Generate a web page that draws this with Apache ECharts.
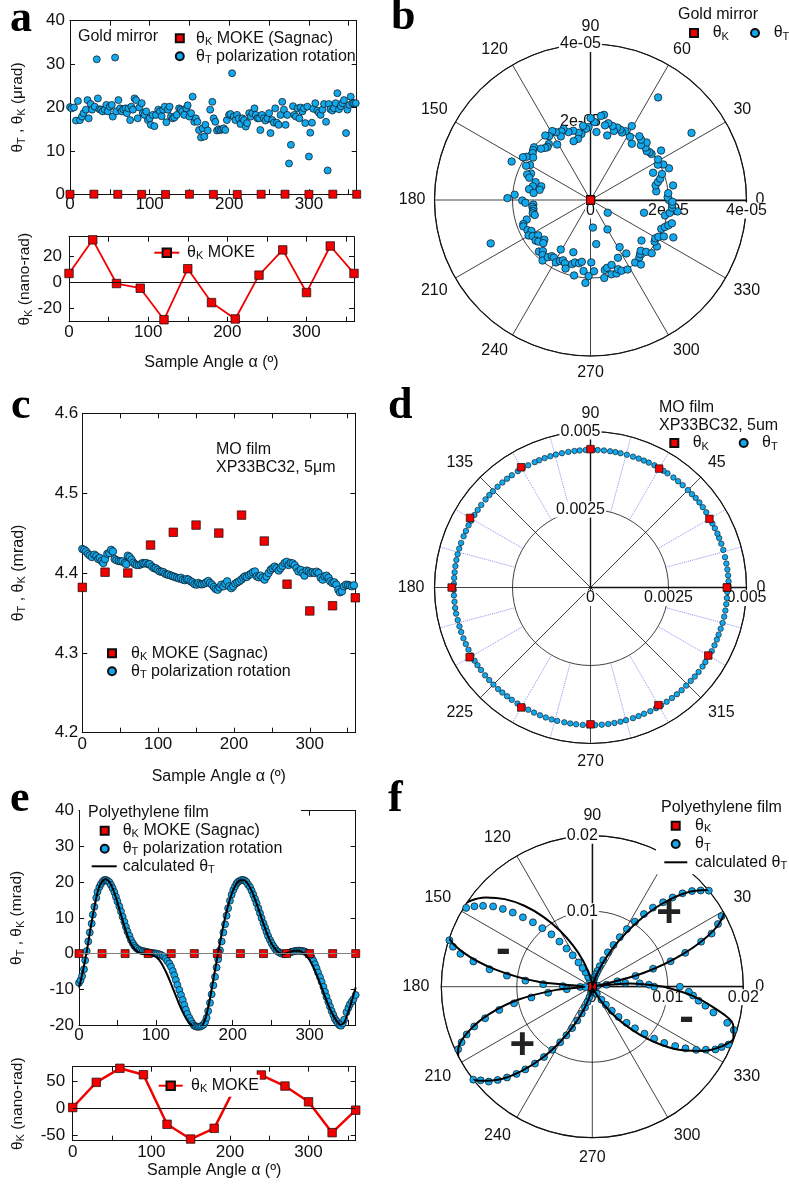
<!DOCTYPE html>
<html>
<head>
<meta charset="utf-8">
<title>Kerr rotation and polarization rotation versus sample angle</title>
<script src="https://cdn.jsdelivr.net/npm/echarts@6.0.0/dist/echarts.min.js"></script>
<style>
html,body{margin:0;padding:0;background:#fff;}
#chart{width:789px;height:1184px;}
</style>
</head>
<body>
<div id="chart"></div>
<script>
// ---------- data ----------
// Sagnac MOKE sample angles (degrees)
const kAngle = [0,30,60,90,120,150,180,210,240,270,300,330,360];

// Gold mirror: Kerr rotation (nano-rad) and polarization rotation (micro-rad)
const aKnrad = [6.9,32.6,-0.8,-4.4,-28.5,10.5,-15.4,-27.9,5.6,24.9,-7.7,27.9,6.9];
const aTAngle = [0,2,5,7.5,10,12.6,15,17,20,22,23.5,26,27.7,31,33.6,35,37,39,41,43.6,45.7,47.4,50,52.5,53.7,56.6,58,60.8,63,65,67,69.7,71.3,73.4,75.5,77,79,81,83,85,87,90,91.5,93.6,95.7,97.8,100,101.5,104,106,108,110.8,113,115,117,119,121,123,125,126.7,129,131,134,137,139,141,143.5,146,147.7,150,152,154,156,158,160,162,164.5,166.6,168.7,170,173,176,178.7,180.4,182.5,184.6,186.7,188.8,191,193,195,197,199.7,201.4,203.5,205.6,207.7,209.8,212,214,216.5,218.6,220.7,222.4,225,227,229,231.6,233.3,235.4,237.5,239,241,243.4,245.5,248,250,251.8,254,256,257.7,259.8,262,264.4,266.5,268.6,270.7,272.8,275,277.4,280,281.6,283.7,285.8,288,289.5,291.7,293.7,295.4,298,300,301.7,303.8,305.5,308,310.5,312.6,314.7,317,319,321.5,323.5,325,327,329.4,331.5,333.6,335.7,337.8,340,342,344,346.6,348.3,350.8,352.5,354.6,356.7,358.8];
const aTurad = [20.1,19.8,20,17,21.5,17.1,17.9,18.7,19.5,21.7,17.5,20.8,19.5,20.2,31.1,22.1,19.6,19.5,19.1,19.5,20.6,19.1,20.2,20.6,17.9,31.5,19.1,21.7,19.8,19.1,19.6,19.8,18.7,19.8,17.1,20.2,19.5,22.1,21.7,17.5,20,21,18.7,18.3,19.1,17.1,17.5,16,18.3,15.7,18.3,19.5,19.1,18,19.5,20.2,16.6,19.5,20.2,17.9,17.5,17.7,18.3,19.8,19.5,19.1,18.3,19.8,20.5,17.9,18.7,22.5,16.7,17.5,16.7,14.8,13.1,15.2,13.3,16,14.7,19.5,21.3,17.5,16.7,14.7,15,14.8,15,15.2,14.8,17.1,18.3,18.5,27.9,17.9,17.1,18.3,17.5,16.2,17.5,17.1,15.6,16.4,18.7,17.9,18.7,19.8,18.3,17.5,17.5,14.8,18.3,17.5,17,17.5,18.7,14.1,17.1,16.5,19.8,16.5,16,18.3,21.3,19.5,16,18.3,7.1,11.4,20.3,18.3,17.9,19.8,17.5,20,19.1,19.8,16.4,20.2,8.7,14.2,16.5,19.7,21,19.3,18.8,18.3,19.5,20.8,16.7,5.5,20.8,19.6,19.3,19.8,21,23.3,19.6,20.3,21,21.7,14.1,19.5,20.6,22.5,21,21,21];

// MO film XP33BC32: Kerr rotation and polarization rotation (mrad)
const cKmrad = [4.382,4.401,4.400,4.435,4.451,4.460,4.450,4.4725,4.440,4.386,4.3525,4.359,4.369];
const cTAngle = [0,2.6,5,7.5,10,12.7,15.8,18.5,21,23,25.5,27.7,30,33,35.6,38,40.4,42.6,45,48,50.5,53,56,58,60,62.4,65,67.2,69.5,72,74.7,77.4,79.6,81.8,84.4,87,89,92,94.5,96.7,99.3,102,104.6,107,109.5,112,114,117,119.6,122,125,127.5,130,132.7,135.4,137.6,140,142.9,145.5,148,150.8,153,155.6,158,161,163.5,166,168.4,171,173.6,176,178.5,181,183.3,186,188.6,191,193.8,196.5,199,201.8,204.4,207,209.7,212.3,214.5,217,219.8,222.4,225,227.7,230,232.5,235,237.8,240.4,243,245.7,248.4,251,253.6,256,259,261.5,264,266.8,269.5,272,274.7,277.4,280,282.6,285,288,290.5,293,295.8,298.5,301,303.7,306.4,309,311.6,314.3,317,319.5,322,324.8,327,329.7,332.3,335,337.6,339.8,342.4,345,347.7,350.3,353,355.6,358.2];
const cTmrad = [4.430,4.429,4.427,4.424,4.422,4.420,4.423,4.421,4.4175,4.419,4.415,4.4125,4.4175,4.424,4.425,4.429,4.427,4.4175,4.416,4.415,4.4146,4.4146,4.4125,4.411,4.4217,4.42,4.4167,4.413,4.411,4.41,4.41,4.411,4.4125,4.412,4.4125,4.411,4.411,4.408,4.406,4.406,4.404,4.402,4.4017,4.401,4.399,4.398,4.398,4.3967,4.3958,4.395,4.394,4.393,4.394,4.3917,4.391,4.3925,4.3917,4.3896,4.3883,4.386,4.3854,4.3875,4.386,4.3858,4.3867,4.3883,4.390,4.3875,4.3854,4.3825,4.380,4.379,4.382,4.3854,4.3833,4.3867,4.3896,4.3833,4.381,4.3833,4.3867,4.3883,4.3896,4.3917,4.394,4.3958,4.395,4.3975,4.399,4.401,4.402,4.3958,4.3946,4.3967,4.394,4.3917,4.3958,4.400,4.404,4.406,4.408,4.406,4.403,4.406,4.409,4.4125,4.414,4.410,4.4125,4.412,4.4096,4.406,4.402,4.404,4.400,4.3967,4.403,4.402,4.400,4.401,4.400,4.4017,4.400,4.394,4.3917,4.3958,4.3967,4.394,4.3896,4.3875,4.3883,4.3854,4.379,4.3758,4.377,4.3833,4.3854,4.385,4.3842,4.3833,4.3846];

// Polyethylene film: Kerr rotation (nano-rad), polarization rotation and model (mrad)
const eKnrad = [1.9,48.8,75,63.1,-29.4,-56.9,-36.9,50,62.5,41.9,12.5,-45,-3.1];
const eTAngle = [0,2,4,6.5,8,10,12,14,16.5,18,20,22.5,24,26.5,28.6,31,33,35,37,39.5,41.6,43.8,46,48,50,52.5,54.6,56.8,59,61,63,65.5,67.6,70,72,74,76,78.5,80.7,83,85,87,89,91.5,93.7,96,98,100,102,104.5,106.7,109,111,113,115,117.5,119.7,122,124,126,128,130.5,132.7,135,137,139,141,143.5,145.7,148,150,152,154,156,158,160,162,164,166,168,170.4,172.6,174.8,177,179,181,183.4,185.6,187.8,190,192,194,196.4,198.6,200.8,203,205,207,209.5,211.6,213.8,216,218,220,222.5,224.6,226.8,229,231,233.3,235.5,237.6,240,242,244,246,248.5,250.6,252.8,255,257,259.3,261.5,263.7,265.8,268,270,272.3,274.5,276.7,278.8,281,283,285,287,289,291,293,295,297,299,301,302.7,305,307,309,311,313.5,315.7,318,320,322,324.4,326.5,328.7,331,333,335,337,339,341,343,345,348,350.5,352.5,355,357,360];
const eTmrad = [-8.2,-7.5,-6.3,-4.4,-1.9,0.7,3.4,5.9,8.4,10.9,13.1,15.6,17.3,18.6,19.5,20.2,20.6,20.6,20.4,20,19.2,18.3,17.2,15.9,14.6,13.2,11.8,10.3,8.9,7.5,6.2,5,3.8,2.9,2.2,1.7,1.3,1.0,0.8,0.7,0.6,0.5,0.4,0.3,0.2,0.1,0.1,0,-0.1,-0.2,-0.4,-0.7,-0.9,-1.4,-2.1,-2.8,-3.7,-4.9,-6.1,-7.4,-8.8,-10.2,-11.6,-13,-14.4,-15.7,-16.9,-18,-18.9,-19.7,-20.2,-20.4,-20.5,-20.5,-20.4,-20.2,-19.9,-19.2,-18,-16.1,-13.8,-11.4,-8.9,-6.5,-3.9,-1.6,0.9,3.4,5.9,8.2,10.6,12.7,14.8,16.5,17.8,18.8,19.6,20.1,20.4,20.6,20.6,20.4,20,19.3,18.6,17.6,16.5,15.3,14.1,12.7,11.3,9.9,8.5,7.3,6.1,4.9,3.8,2.9,2.1,1.4,0.8,0.5,0.2,0,-0.1,-0.1,0,0.1,0.3,0.5,0.6,0.7,0.75,0.8,0.8,0.75,0.7,0.6,0.4,0.1,-0.3,-0.7,-1.1,-2.1,-3,-4.1,-5.3,-6.6,-7.9,-9.3,-10.7,-12.1,-13.5,-14.8,-16.1,-17.2,-18.3,-18.9,-19.6,-20.1,-20.2,-19.6,-18.5,-16.4,-15.2,-14.2,-13.4,-12.8,-11.6];
const eCalcAngle = [0,5,10,15,20,25,30,35,40,45,50,55,60,65,70,75,80,85,90,95,100,105,110,115,120,125,130,135,140,145,150,155,160,165,170,175,180,185,190,195,200,205,210,215,220,225,230,235,240,245,250,255,260,265,270,275,280,285,290,295,300,305,310,315,320,325,330,335,340,345,350,355,360];
const eCalcMrad = [-9.5,-5,0.5,7,13,17.8,20.2,20.8,19.9,17.6,14.3,10.6,7.0,4.0,1.9,0.7,0.1,-0.1,-0.2,-0.4,-0.9,-2.0,-3.8,-6.0,-8.6,-11.3,-14,-16.4,-18.4,-19.8,-20.6,-20.8,-20.3,-17.8,-13,-7,-1,4.8,10,14.2,17.5,19.6,20.5,20.5,19.4,17.4,14.6,11.5,8.3,5.4,3.0,1.3,0.3,-0.1,0.1,0.5,0.8,0.8,0.5,-0.3,-1.8,-3.8,-6.3,-9.1,-12,-14.7,-17,-18.8,-19.9,-19.3,-16.5,-13.2,-9.5];

// sign of the rotation in each lobe of the polar plot (radius in rad, angle in degrees)
const fSignText = ['+','-','+','-'];
const fSignR = [0.0139,0.0127,0.0122,0.0132];
const fSignAngle = [43,158,220.6,341];

// axis ticks
const xTickVals = [0,50,100,150,200,250,300,350];
const xLabelVals = [0,100,200,300];

// ---------- styling helpers ----------
const FONT = "'Liberation Sans', Arial, Helvetica, sans-serif";
const SERIF = "'Liberation Serif', 'Times New Roman', serif";
const INK = '#111111';
const RED = '#f20000';
const BLUE = '#12a8ee';
const EDGE = '#0d0d0d';

function sub(s) { return s.replace(/θ([KT])/g, 'θ{s|$1}'); }
function richSub(size) {
  const f = Math.round(size * 0.68);
  return { s: { fontFamily: FONT, fontSize: f, lineHeight: f, verticalAlign: 'bottom', color: INK } };
}
function zip(a, b) { return a.map((v, i) => [v, b[i]]); }
const redDot = { color: RED, borderColor: EDGE, borderWidth: 0.7, opacity: 1 };
const blueDot = { color: BLUE, borderColor: EDGE, borderWidth: 0.7, opacity: 1 };

function tickStyle(vals) {
  return { show: true, inside: true, length: 5, lineStyle: { color: INK, width: 1 }, customValues: vals };
}
const frameLine = { show: true, onZero: false, lineStyle: { color: INK, width: 1 } };

// four framing axes (bottom, top, left, right) for one cartesian panel
function cartesian(gi, c) {
  const xb = {
    gridIndex: gi, type: 'value', position: 'bottom', min: 0, max: 360,
    axisLine: frameLine, axisTick: tickStyle(xTickVals), splitLine: { show: false },
    axisLabel: { customValues: xLabelVals, margin: c.xlm, fontFamily: FONT, fontSize: 17, color: INK },
    name: c.xName || '', nameLocation: 'middle', nameGap: c.xng || 30, nameMoveOverlap: false,
    nameTextStyle: { fontFamily: FONT, fontSize: 16, color: INK }
  };
  const xt = {
    gridIndex: gi, type: 'value', position: 'top', min: 0, max: 360,
    axisLine: frameLine, axisTick: tickStyle(c.xTop || xTickVals), axisLabel: { show: false }, splitLine: { show: false }
  };
  const yLabel = { customValues: c.yTicks, margin: c.ylm, fontFamily: FONT, fontSize: 17, color: INK };
  if (c.yfmt) yLabel.formatter = c.yfmt;
  const yl = {
    gridIndex: gi, type: 'value', position: 'left', min: c.ymin, max: c.ymax,
    axisLine: frameLine, axisTick: tickStyle(c.yTicks), splitLine: { show: false }, axisLabel: yLabel,
    name: sub(c.yName), nameLocation: 'middle', nameGap: c.yng, nameRotate: 90, nameMoveOverlap: false,
    nameTextStyle: { fontFamily: FONT, fontSize: c.yns, lineHeight: 18, color: INK, rich: richSub(c.yns) }
  };
  const yr = {
    gridIndex: gi, type: 'value', position: 'right', min: c.ymin, max: c.ymax,
    axisLine: frameLine, axisTick: tickStyle(c.yRight), axisLabel: { show: false }, splitLine: { show: false }
  };
  return { x: [xb, xt], y: [yl, yr] };
}

const panels = [
  cartesian(0, { ymin: 0, ymax: 40, yTicks: [0,10,20,30,40], yRight: [10,20,30], xlm: 2, ylm: 5,
                 yName: 'θT , θK (μrad)', yng: 43, yns: 15.5 }),
  cartesian(1, { ymin: -30, ymax: 35, yTicks: [-20,0,20], yRight: [-20,0,20], xlm: 2, ylm: 7,
                 yName: 'θK (nano-rad)', yng: 35, yns: 15.5, xName: 'Sample Angle α (º)', xng: 33 }),
  cartesian(2, { ymin: 4.2, ymax: 4.6, yTicks: [4.2,4.3,4.4,4.5,4.6], yRight: [4.3,4.4,4.5], xlm: 3.5, ylm: 4,
                 yfmt: v => v.toFixed(1), yName: 'θT , θK (mrad)', yng: 55, yns: 16,
                 xName: 'Sample Angle α (º)', xng: 36 }),
  cartesian(3, { ymin: -20, ymax: 40, yTicks: [-20,-10,0,10,20,30,40], yRight: [-10,0,10,20,30], xTop: [100,200,300],
                 xlm: 1.5, ylm: 5, yName: 'θT , θK (mrad)', yng: 53, yns: 15.5 }),
  cartesian(4, { ymin: -60, ymax: 78, yTicks: [-50,0,50], yRight: [-50,0,50], xlm: 3.5, ylm: 7.5,
                 yName: 'θK (nano-rad)', yng: 46, yns: 15.5, xName: 'Sample Angle α (º)', xng: 22 })
];

function zeroLine(color) {
  return { silent: true, symbol: 'none', label: { show: false }, animation: false,
           lineStyle: { color: color, width: 1, type: 'solid', opacity: 1 }, data: [{ yAxis: 0 }] };
}

// ---------- polar helpers ----------
function sci(v) {
  if (v === 0) return '0';
  const e = Math.floor(Math.log10(Math.abs(v)) + 1e-9);
  const m = Math.round(v / Math.pow(10, e));
  return m + 'e' + (e < 0 ? '-' : '+') + String(Math.abs(e)).padStart(2, '0');
}
const plain = v => String(+v.toPrecision(6));
const polarLabel = { fontFamily: FONT, fontSize: 16, color: INK };

function angleMain(pi, interval, margin) {
  return {
    polarIndex: pi, type: 'value', min: 0, max: 360, interval: interval, startAngle: 0, clockwise: false,
    axisLine: { show: true, lineStyle: { color: INK, width: 1.2 } },
    axisTick: { show: false },
    axisLabel: Object.assign({ show: true, margin: margin, formatter: v => (v >= 360 ? '' : String(v)) }, polarLabel),
    splitLine: { show: true, lineStyle: { color: INK, width: 0.8 } }
  };
}
function angleHidden(pi) {
  return { polarIndex: pi, type: 'value', min: 0, max: 360, startAngle: 90, clockwise: false, show: false };
}
function radiusMain(pi, max, interval, fmt) {
  return {
    polarIndex: pi, type: 'value', min: 0, max: max, interval: interval,
    axisLine: { show: true, lineStyle: { color: INK, width: 1.4 } },
    axisTick: { show: false },
    splitLine: { show: true, lineStyle: { color: INK, width: 0.8 } },
    axisLabel: Object.assign({ formatter: fmt, margin: -10.5, align: 'center', verticalAlign: 'middle',
                               backgroundColor: '#fff', padding: [0, 1] }, polarLabel)
  };
}
function radiusVertical(pi, max, interval, fmt) {
  return {
    polarIndex: pi, type: 'value', min: 0, max: max, interval: interval, z: 1,
    axisLine: { show: true, lineStyle: { color: INK, width: 1.4 } },
    axisTick: { show: false }, splitLine: { show: false },
    axisLabel: Object.assign({ formatter: v => (v === 0 ? '' : fmt(v)), margin: 10, align: 'center',
                               verticalAlign: 'middle', backgroundColor: '#fff', padding: [0, 1] }, polarLabel)
  };
}

function legendText(size, padLeft) {
  return { fontFamily: FONT, fontSize: size, color: INK, lineHeight: 18, padding: [0, 0, 0, padLeft], rich: richSub(size) };
}
function legendBase(extra) {
  return Object.assign({ orient: 'vertical', itemWidth: 8, itemHeight: 8, itemGap: 0, padding: 0,
                         selectedMode: false, formatter: sub }, extra);
}
function titleText(text, left, top, extra) {
  return Object.assign({ text: text, left: left, top: top, padding: 0,
    textStyle: { fontFamily: FONT, fontSize: 16, fontWeight: 'normal', color: INK, lineHeight: 18 } }, extra || {});
}
function letter(text, left, top) {
  return { text: text, left: left, top: top, padding: 0,
    textStyle: { fontFamily: SERIF, fontSize: 44, fontWeight: 'bold', color: '#000', lineHeight: 44 } };
}

const absRad = arr => arr.map(v => Math.abs(v) * 1e-3);

const option = {
  animation: false,
  backgroundColor: '#ffffff',
  textStyle: { fontFamily: FONT },
  title: [
    letter('a', 10, -2), letter('b', 391, -4), letter('c', 11, 385), letter('d', 388, 385),
    letter('e', 10, 778), letter('f', 388, 778),
    titleText('Gold mirror', 78, 28),
    titleText('Gold mirror', 678, 6),
    titleText('MO film\nXP33BC32, 5μm', 216, 441),
    titleText('MO film\nXP33BC32, 5um', 659, 399),
    titleText('Polyethylene film', 80, 802.5, { padding: [1, 92, 1, 8], backgroundColor: '#fff' }),
    titleText('Polyethylene film', 656, 798, { padding: [1, 10, 1, 5], backgroundColor: '#fff' })
  ],
  legend: [
    legendBase({ data: ['θK MOKE (Sagnac)', 'θT polarization rotation'], left: 174.8, top: 29.3, textStyle: legendText(16, 7.2) }),
    legendBase({ data: ['θK MOKE'], left: 153.3, top: 243.7, itemWidth: 25, itemHeight: 10.5, textStyle: legendText(16, 2.7) }),
    legendBase({ data: ['θK'], left: 689, top: 24, textStyle: legendText(16, 9.7) }),
    legendBase({ data: ['θT'], left: 750, top: 24, textStyle: legendText(16, 9.7) }),
    legendBase({ data: ['θK MOKE (Sagnac)', 'θT polarization rotation'], left: 107, top: 644.3, textStyle: legendText(16, 10) }),
    legendBase({ data: ['θK'], left: 669.3, top: 434, textStyle: legendText(16, 9.4) }),
    legendBase({ data: ['θT'], left: 738.7, top: 434, textStyle: legendText(16, 9.4) }),
    legendBase({ data: ['θK MOKE (Sagnac)', 'θT polarization rotation'], left: 99.7, top: 821.7, textStyle: legendText(16, 9) }),
    legendBase({ data: ['calculated θT'], left: 90.7, top: 857.3, itemWidth: 25, itemHeight: 10,
                 itemStyle: { color: 'rgba(0,0,0,0)', borderWidth: 0 }, textStyle: legendText(16, 1) }),
    legendBase({ data: ['θK MOKE'], left: 155.7, top: 1074.7, itemWidth: 24, itemHeight: 10.5, padding: [2, 1, 2, 2],
                 backgroundColor: '#fff', textStyle: legendText(16, 3.3) }),
    legendBase({ data: ['θK', 'θT'], left: 670.7, top: 816.7, itemGap: 0.3, padding: [0, 30, 0, 0],
                 backgroundColor: '#fff', textStyle: legendText(16, 10.3) }),
    legendBase({ data: ['calculated θT'], left: 656, top: 848.3, itemWidth: 23, itemHeight: 10, padding: [5, 10, 3, 7.3],
                 backgroundColor: '#fff', itemStyle: { color: 'rgba(0,0,0,0)', borderWidth: 0 }, textStyle: legendText(16, 2.7) })
  ],
  grid: [
    { left: 70, top: 20.7, width: 286.7, height: 173.6 },
    { left: 69, top: 236.7, width: 285, height: 85 },
    { left: 82.3, top: 413.3, width: 273, height: 319.4 },
    { left: 79, top: 810.7, width: 276.7, height: 214.3 },
    { left: 72.7, top: 1066.7, width: 283, height: 74 }
  ].map(g => Object.assign({ outerBoundsMode: 'none', containLabel: false, show: false }, g)),
  xAxis: panels.flatMap(p => p.x),
  yAxis: panels.flatMap(p => p.y),
  polar: [
    { center: [590.5, 200], radius: 156 },
    { center: [590.5, 200], radius: 156 },
    { center: [590.5, 587.5], radius: [78, 156] },
    { center: [590.5, 587.5], radius: 156 },
    { center: [590.5, 587.5], radius: 156 },
    { center: [592.3, 986.7], radius: 151 },
    { center: [592.3, 986.7], radius: 151 }
  ],
  angleAxis: [
    angleMain(0, 30, 9),
    angleHidden(1),
    { polarIndex: 2, type: 'value', min: 0, max: 360, interval: 15, startAngle: 0, clockwise: false,
      axisLine: { show: false }, axisTick: { show: false }, axisLabel: { show: false },
      splitLine: { show: true, lineStyle: { color: ['rgba(0,0,0,0)', '#8d8ff2', '#8d8ff2'], type: 'dotted', width: 1 } } },
    angleMain(3, 45, 10),
    angleHidden(4),
    angleMain(5, 30, 12),
    angleHidden(6)
  ],
  radiusAxis: [
    radiusMain(0, 4e-5, 2e-5, sci),
    radiusVertical(1, 4e-5, 2e-5, sci),
    { polarIndex: 2, type: 'value', min: 0, max: 1, show: false },
    radiusMain(3, 0.005, 0.0025, plain),
    radiusVertical(4, 0.005, 0.0025, plain),
    radiusMain(5, 0.02, 0.01, plain),
    radiusVertical(6, 0.02, 0.01, plain)
  ],
  series: [
    // panel a: gold mirror, linear
    { type: 'scatter', name: 'θT polarization rotation', xAxisIndex: 0, yAxisIndex: 0, clip: false,
      symbol: 'circle', symbolSize: 7, itemStyle: blueDot, data: zip(aTAngle, aTurad) },
    { type: 'scatter', name: 'θK MOKE (Sagnac)', xAxisIndex: 0, yAxisIndex: 0, clip: false,
      symbol: 'rect', symbolSize: 8, itemStyle: redDot, data: zip(kAngle, aKnrad.map(v => v * 1e-3)) },
    { type: 'line', name: 'θK MOKE', xAxisIndex: 2, yAxisIndex: 2, clip: false,
      symbol: 'rect', symbolSize: 8.5, showSymbol: true, itemStyle: redDot,
      lineStyle: { color: RED, width: 1.8 }, markLine: zeroLine(INK), data: zip(kAngle, aKnrad) },

    // panel b: gold mirror, polar
    { type: 'scatter', name: 'θT', coordinateSystem: 'polar', polarIndex: 0,
      symbol: 'circle', symbolSize: 7.5, itemStyle: blueDot,
      data: zip(aTurad.map(v => v * 1e-6), aTAngle) },
    { type: 'scatter', name: 'θK', coordinateSystem: 'polar', polarIndex: 0,
      symbol: 'rect', symbolSize: 8, itemStyle: redDot,
      data: zip(aKnrad.map(v => v * 1e-9), kAngle) },

    // panel c: MO film, linear
    { type: 'scatter', name: 'θT polarization rotation', xAxisIndex: 4, yAxisIndex: 4, clip: false,
      symbol: 'circle', symbolSize: 7.5, itemStyle: blueDot, data: zip(cTAngle, cTmrad) },
    { type: 'scatter', name: 'θK MOKE (Sagnac)', xAxisIndex: 4, yAxisIndex: 4, clip: false,
      symbol: 'rect', symbolSize: 8.5, itemStyle: redDot, data: zip(kAngle, cKmrad) },

    // panel d: MO film, polar
    { type: 'scatter', name: 'θT', coordinateSystem: 'polar', polarIndex: 3,
      symbol: 'circle', symbolSize: 5.5, itemStyle: { color: BLUE, borderColor: EDGE, borderWidth: 0.6, opacity: 1 },
      data: zip(cTmrad.map(v => v * 1e-3), cTAngle) },
    { type: 'scatter', name: 'θK', coordinateSystem: 'polar', polarIndex: 3,
      symbol: 'rect', symbolSize: 7.5, itemStyle: redDot,
      data: zip(cKmrad.map(v => v * 1e-3), kAngle) },

    // panel e: polyethylene film, linear
    { type: 'scatter', name: 'θT polarization rotation', xAxisIndex: 6, yAxisIndex: 6, clip: false,
      symbol: 'circle', symbolSize: 7, itemStyle: blueDot, data: zip(eTAngle, eTmrad) },
    { type: 'line', name: 'calculated θT', xAxisIndex: 6, yAxisIndex: 6, smooth: 0.3,
      symbol: 'none', showSymbol: false, lineStyle: { color: '#000', width: 2 }, itemStyle: { color: '#000' },
      data: zip(eCalcAngle, eCalcMrad) },
    { type: 'scatter', name: 'θK MOKE (Sagnac)', xAxisIndex: 6, yAxisIndex: 6, clip: false,
      symbol: 'rect', symbolSize: 8, itemStyle: redDot, markLine: zeroLine('#808080'),
      data: zip(kAngle, eKnrad.map(v => v * 1e-6)) },
    { type: 'line', name: 'θK MOKE', xAxisIndex: 8, yAxisIndex: 8, clip: false,
      symbol: 'rect', symbolSize: 8.5, showSymbol: true, itemStyle: redDot,
      lineStyle: { color: RED, width: 2.5 }, markLine: zeroLine(INK), data: zip(kAngle, eKnrad) },

    // panel f: polyethylene film, polar (magnitude of the rotation)
    { type: 'scatter', name: 'θT', coordinateSystem: 'polar', polarIndex: 5,
      symbol: 'circle', symbolSize: 7, itemStyle: blueDot, data: zip(absRad(eTmrad), eTAngle) },
    { type: 'line', name: 'calculated θT', coordinateSystem: 'polar', polarIndex: 5, smooth: 0.3,
      symbol: 'none', showSymbol: false, lineStyle: { color: '#000', width: 2 }, itemStyle: { color: '#000' },
      data: zip(absRad(eCalcMrad), eCalcAngle) },
    { type: 'scatter', name: 'θK', coordinateSystem: 'polar', polarIndex: 5,
      symbol: 'rect', symbolSize: 7.5, itemStyle: redDot, data: zip(eKnrad.map(v => v * 1e-9), kAngle) },
    { type: 'scatter', name: 'sign', coordinateSystem: 'polar', polarIndex: 5, silent: true,
      symbolSize: 0, itemStyle: { color: 'rgba(0,0,0,0)', opacity: 1 },
      label: { show: true, position: 'inside', formatter: p => p.name, fontFamily: FONT, fontSize: 44,
               fontWeight: 'bold', color: '#222', opacity: 1 },
      data: fSignText.map((s, i) => ({ name: s, value: [fSignR[i], fSignAngle[i]] })) }
  ]
};

const chart = echarts.init(document.getElementById('chart'), null, { renderer: 'canvas' });
chart.setOption(option);
</script>
</body>
</html>
